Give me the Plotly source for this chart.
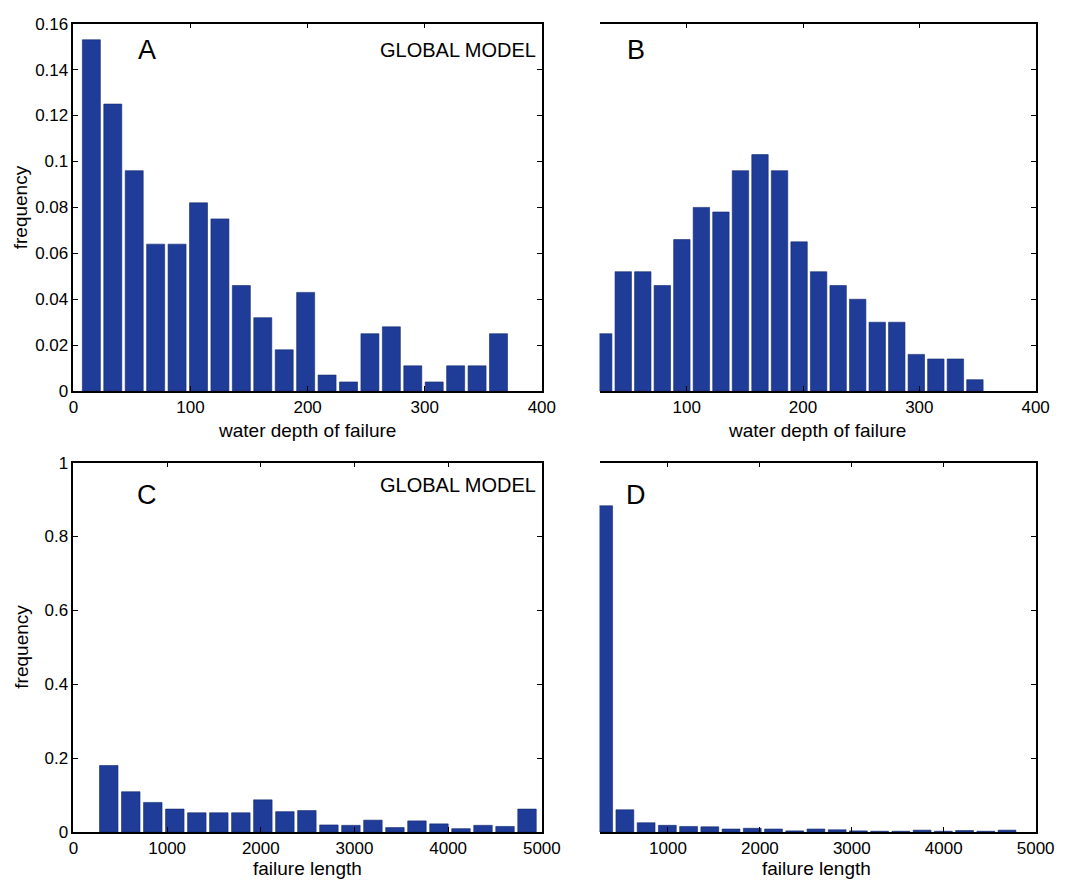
import plotly.graph_objects as go

W, H = 1082, 887

# ---- data ----
depth_centers_A = [15.3, 33.6, 51.9, 70.2, 88.5, 106.8, 125.1, 143.4, 161.7, 180.0,
                   198.3, 216.6, 234.9, 253.2, 271.5, 289.8, 308.1, 326.4, 344.7, 363.0]
depth_freq_A = [0.153, 0.125, 0.096, 0.064, 0.064, 0.082, 0.075, 0.046, 0.032, 0.018,
                0.043, 0.007, 0.004, 0.025, 0.028, 0.011, 0.004, 0.011, 0.011, 0.025]

depth_centers_B = [28.6, 45.4, 62.2, 79.0, 95.8, 112.6, 129.4, 146.2, 163.0, 179.8,
                   196.6, 213.4, 230.2, 247.0, 263.8, 280.6, 297.4, 314.2, 331.0, 347.8]
depth_freq_B = [0.025, 0.052, 0.052, 0.046, 0.066, 0.080, 0.078, 0.096, 0.103, 0.096,
                0.065, 0.052, 0.046, 0.040, 0.030, 0.030, 0.016, 0.014, 0.014, 0.005]

length_centers_C = [377, 612, 847, 1082, 1317, 1552, 1787, 2022, 2257, 2492,
                    2727, 2962, 3197, 3432, 3667, 3902, 4137, 4372, 4607, 4842]
length_freq_C = [0.180, 0.109, 0.080, 0.062, 0.052, 0.052, 0.052, 0.087, 0.055, 0.058,
                 0.019, 0.018, 0.032, 0.012, 0.030, 0.022, 0.009, 0.018, 0.015, 0.062]

length_centers_D = [300, 531, 762, 993, 1224, 1455, 1686, 1917, 2148, 2379,
                    2610, 2841, 3072, 3303, 3534, 3765, 3996, 4227, 4458, 4689]
length_freq_D = [0.883, 0.060, 0.025, 0.018, 0.015, 0.014, 0.008, 0.010, 0.008, 0.003,
                 0.008, 0.006, 0.003, 0.002, 0.002, 0.005, 0.002, 0.004, 0.002, 0.005]

panel_letters = ["A", "B", "C", "D"]
model_label = "GLOBAL MODEL"
ylabel = "frequency"
xlabel_depth = "water depth of failure"
xlabel_length = "failure length"

# ---- styling ----
FONT = "Liberation Sans"
BAR = "#1e3c98"
EDGE = "#142a6e"


def px(x):
    return x / W


def py(y):
    return 1 - y / H


xA = [px(70), px(549)]
xB = [px(608), px(1054)]
yTop = [py(390.5), py(15)]
yBot = [py(841), py(463.5)]

fig = go.Figure()

traces = [
    (depth_centers_A, depth_freq_A, "x", "y"),
    (depth_centers_B, depth_freq_B, "x2", "y2"),
    (length_centers_C, length_freq_C, "x3", "y3"),
    (length_centers_D, length_freq_D, "x4", "y4"),
]
for xs, ys, xa, ya in traces:
    fig.add_trace(go.Bar(x=xs, y=ys, xaxis=xa, yaxis=ya,
                         marker=dict(color=BAR, line=dict(color=EDGE, width=0.6)),
                         showlegend=False))

tickfont = dict(family=FONT, size=17, color="black")
common_x = dict(showline=True, linecolor="black", linewidth=1.6, ticks="inside",
                ticklen=5, tickcolor="black", showgrid=False, zeroline=False,
                tickfont=tickfont, mirror="ticks")
common_y = dict(showline=True, linecolor="black", linewidth=1.6, ticks="inside",
                ticklen=5, tickcolor="black", showgrid=False, zeroline=False,
                tickfont=tickfont)

fig.update_layout(
    autosize=True,
    margin=dict(l=0, r=0, t=0, b=0),
    paper_bgcolor="white", plot_bgcolor="white",
    bargap=0.16,
    xaxis=dict(domain=xA, anchor="y", range=[0, 400], dtick=100, **common_x),
    yaxis=dict(domain=yTop, anchor="x", range=[0, 0.16], dtick=0.02, mirror="ticks", **common_y),
    xaxis2=dict(domain=xB, anchor="y2", range=[25, 400], dtick=100, **common_x),
    yaxis2=dict(domain=yTop, anchor="x2", range=[0, 0.16], dtick=0.02, side="right",
                showticklabels=False, **common_y),
    xaxis3=dict(domain=xA, anchor="y3", range=[0, 5000], dtick=1000, **common_x),
    yaxis3=dict(domain=yBot, anchor="x3", range=[0, 1], dtick=0.2, mirror="ticks", **common_y),
    xaxis4=dict(domain=xB, anchor="y4", range=[255, 5000], dtick=1000, **common_x),
    yaxis4=dict(domain=yBot, anchor="x4", range=[0, 1], dtick=0.2, side="right",
                showticklabels=False, **common_y),
)

ann = []
lab_font = dict(family=FONT, size=27, color="black")
for letter, (x, y) in zip(panel_letters, [(145, 42), (645, 42), (145, 497), (645, 497)]):
    ann.append(dict(text=letter, x=px(x), y=py(y), xref="paper", yref="paper",
                    showarrow=False, xanchor="center", yanchor="middle", font=lab_font))
for y in (42, 486):
    ann.append(dict(text=model_label, x=px(545), y=py(y), xref="paper", yref="paper",
                    showarrow=False, xanchor="right", yanchor="middle",
                    font=dict(family=FONT, size=20, color="black")))
t_font = dict(family=FONT, size=19, color="black")
for y in (203, 652):
    ann.append(dict(text=ylabel, x=px(16), y=py(y), xref="paper", yref="paper",
                    showarrow=False, textangle=-90, xanchor="center", yanchor="middle",
                    font=t_font))
for x in (309, 830):
    ann.append(dict(text=xlabel_depth, x=px(x), y=py(431), xref="paper", yref="paper",
                    showarrow=False, xanchor="center", yanchor="middle", font=t_font))
    ann.append(dict(text=xlabel_length, x=px(x), y=py(878), xref="paper", yref="paper",
                    showarrow=False, xanchor="center", yanchor="middle", font=t_font))
fig.update_layout(annotations=ann)

fig.write_html("out.html",
               config={"displayModeBar": False, "responsive": True},
               default_width="100vw", default_height="100vh",
               post_script="document.body.style.margin='0';document.body.style.overflow='hidden';")
